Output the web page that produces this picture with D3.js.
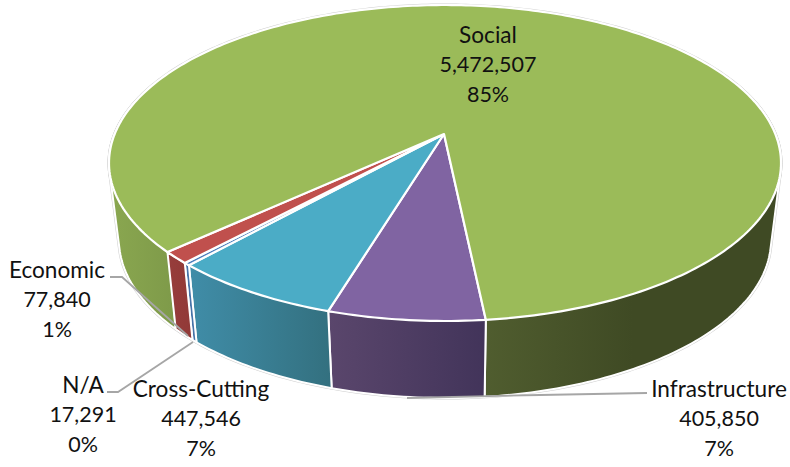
<!DOCTYPE html>
<html>
<head>
<meta charset="utf-8">
<script src="https://cdn.jsdelivr.net/npm/d3@7"></script>
<style>
  html, body { margin: 0; padding: 0; background: #fff; }
  svg { display: block; }
  text { font-family: Lato, "Open Sans", sans-serif; font-size: 21.5px; fill: #111; text-anchor: middle; }
  tspan.name { font-size: 22.6px; }
</style>
</head>
<body>
<svg id="chart" width="790" height="467"></svg>
<script>
// Funding by sector, clockwise from the front of the disc
const categories = ["Infrastructure", "Cross-Cutting", "N/A", "Economic", "Social"];
const amounts = [405850, 447546, 17291, 77840, 5472507];
const shares = ["7%", "7%", "0%", "1%", "85%"];
const topColors = ["#8064a2", "#4bacc6", "#4f81bd", "#c0504d", "#9bbb59"];
const wallStops = [
  ["#5a466c", "#42345a"],
  ["#408da8", "#33707f"],
  ["#4673a8", "#4673a8"],
  ["#973d3b", "#913937"],
  ["#8aa750", "#7e9a49"]
];
const wallStopsRight = ["#505d2f", "#3f4a24", "#3f4a24"];
const labelAnchors = [[719, 397], [201, 397], [83, 393], [57, 278], [488, 43]];
const leaderPaths = [
  [[647, 393], [540, 395], [407, 398]],
  [[107, 392], [118, 392], [193, 342]],
  [[110, 277], [122, 277], [188, 336]]
];

const svg = d3.select("#chart");

// Rim ellipses of the tilted disc, and where the disc's centre lands on the top face
const topRim = { cx: 445, cy: 163, rx: 336, ry: 158 };
const baseRim = { cx: 445, cy: 240, rx: 326, ry: 158 };
const hubOffset = -0.1835;
const deg = Math.PI / 180;

// Perspective projection of a disc angle onto a rim ellipse
function project(angle, rim) {
  const x = Math.sin(angle), y = -Math.cos(angle);
  const d = 1 + y * hubOffset;
  return [
    rim.cx + rim.rx * x * Math.sqrt(1 - hubOffset * hubOffset) / d,
    rim.cy + rim.ry * (y + hubOffset) / d
  ];
}

function arcPoints(a0, a1, rim) {
  const n = Math.max(2, Math.ceil(Math.abs(a1 - a0) / deg));
  return d3.range(n + 1).map(i => project(a0 + (a1 - a0) * i / n, rim));
}

const outline = d3.line();
const pie = d3.pie().sort(null).startAngle(174.2 * deg).endAngle(534.2 * deg);
const slices = pie(amounts);

const defs = svg.append("defs");
function gradient(id, colors) {
  const g = defs.append("linearGradient").attr("id", id);
  colors.forEach((c, i) => g.append("stop")
    .attr("offset", i / (colors.length - 1)).attr("stop-color", c));
  return `url(#${id})`;
}

// Side walls: the big slice is split so each visible flank has its own shading
const social = slices[4];
const walls = [
  { a0: social.startAngle, a1: 290 * deg, fill: gradient("wall-social-left", wallStops[4]) },
  { a0: 430 * deg, a1: social.endAngle, fill: gradient("wall-social-right", wallStopsRight) }
];
slices.slice(0, 4).forEach((s, i) => walls.push({
  a0: s.startAngle, a1: s.endAngle, fill: gradient(`wall-${i}`, wallStops[i])
}));
// The hull of both rim arcs gives the straight tangent flanks at the disc's sides;
// its inner part is hidden by the top face.
const wallPath = w => outline(
  d3.polygonHull(arcPoints(w.a0, w.a1, topRim).concat(arcPoints(w.a0, w.a1, baseRim)))
) + "Z";

const hub = [topRim.cx - 1, topRim.cy + topRim.ry * hubOffset];
const facePath = s => outline([hub].concat(arcPoints(s.startAngle, s.endAngle, topRim))) + "Z";

// Faint outer edge that shows just beyond the white slice borders
const edge = svg.append("g").attr("fill", "none").attr("stroke", "#cfcfcf")
  .attr("stroke-width", 3).attr("stroke-linejoin", "round");
edge.selectAll("path.w").data(walls).join("path").attr("class", "w").attr("d", wallPath);
edge.selectAll("path.f").data(slices).join("path").attr("class", "f").attr("d", facePath);

svg.append("g").selectAll("path").data(walls).join("path")
  .attr("d", wallPath)
  .attr("fill", d => d.fill)
  .attr("stroke", "#fff").attr("stroke-width", 2).attr("stroke-linejoin", "round");

svg.append("g").selectAll("path").data(slices).join("path")
  .attr("d", facePath)
  .attr("fill", (d, i) => topColors[i])
  .attr("stroke", "#fff").attr("stroke-width", 2.2).attr("stroke-linejoin", "round");

// Leader lines from the outside labels
svg.append("g").selectAll("path").data(leaderPaths).join("path")
  .attr("d", d => outline(d))
  .attr("fill", "none").attr("stroke", "#a6a6a6").attr("stroke-width", 1.8);

// Three-line labels: name, amount, share
const fmt = d3.format(",");
const labels = svg.append("g").selectAll("text").data(categories).join("text")
  .attr("transform", (d, i) => `translate(${labelAnchors[i][0]},${labelAnchors[i][1]})`);
labels.selectAll("tspan")
  .data((d, i) => [d, fmt(amounts[i]), shares[i]])
  .join("tspan")
  .attr("class", (d, i) => i === 0 ? "name" : null)
  .attr("x", 0)
  .attr("y", (d, i) => i * 29.3)
  .text(d => d);
</script>
</body>
</html>
